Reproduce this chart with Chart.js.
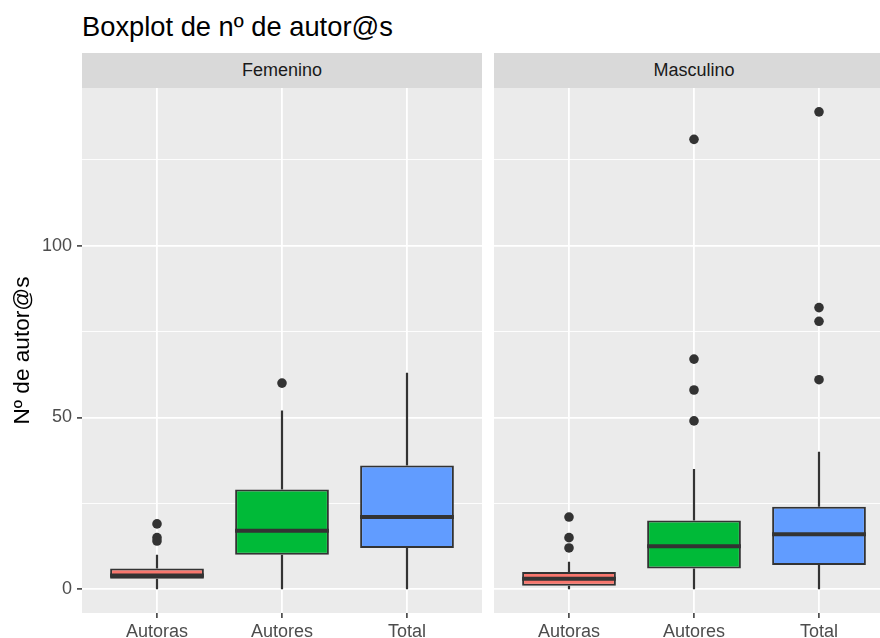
<!DOCTYPE html>
<html>
<head>
<meta charset="utf-8">
<script src="https://cdn.jsdelivr.net/npm/chart.js@4"></script>
<style>
  body { margin: 0; background: #fff; width: 880px; height: 638px; overflow: hidden; position: relative; font-family: "Liberation Sans", Arial, sans-serif; }
  #titulo { position: absolute; left: 82px; top: 13px; font-size: 27.3px; line-height: 27px; color: #000; white-space: nowrap; }
  .strip { position: absolute; top: 53px; width: 400px; height: 35px; line-height: 35px; background: #D9D9D9; color: #1A1A1A; font-size: 18px; text-align: center; }
  canvas { position: absolute; top: 88px; }
</style>
</head>
<body>
<div id="titulo">Boxplot de nº de autor@s</div>
<div class="strip" id="stripFem" style="left:82px"></div>
<div class="strip" id="stripMasc" style="left:494px"></div>
<canvas id="panelFem" width="482" height="550" style="left:0px"></canvas>
<canvas id="panelMasc" width="400" height="550" style="left:494px"></canvas>
<script>
// Datos
const grupos = ['Femenino', 'Masculino'];
const categorias = ['Autoras', 'Autores', 'Total'];

const femMin = [0, 0, 0];
const femQ1 = [3, 10, 12];
const femMediana = [4, 17, 21];
const femQ3 = [6, 29, 36];
const femMax = [10, 52, 63];
const femOutliers = [[19, 15, 14], [60], []];

const mascMin = [0, 0, 0];
const mascQ1 = [1, 6, 7];
const mascMediana = [3, 12.5, 16];
const mascQ3 = [5, 20, 24];
const mascMax = [8, 35, 40];
const mascOutliers = [[21, 15, 12], [131, 67, 58, 49], [139, 82, 78, 61]];

const colores = ['#F8766D', '#00BA38', '#619CFF'];
const yMin = -6.95;
const yMax = 145.95;
const anchoCaja = 0.75;

document.getElementById('stripFem').textContent = grupos[0];
document.getElementById('stripMasc').textContent = grupos[1];

const fuente = "'Liberation Sans', Arial, sans-serif";
const gris = '#333333';

// fondo gris del panel (estilo ggplot)
const fondoPanel = {
    id: 'fondoPanel',
    beforeDraw(chart) {
        const a = chart.chartArea;
        chart.ctx.save();
        chart.ctx.fillStyle = '#EBEBEB';
        chart.ctx.fillRect(a.left, a.top, a.right - a.left, a.bottom - a.top);
        chart.ctx.restore();
    }
};

function sinPadding(s) {
    s.paddingTop = 0;
    s.paddingBottom = 0;
    s.paddingLeft = 0;
    s.paddingRight = 0;
}

function crearPanel(canvasId, q1, med, q3, lo, hi, outl, conEjeY) {
    const cajas = categorias.map((c, i) => ({ x: i + 1, y: [q1[i], q3[i]] }));
    const bigotes = [];
    const medianas = [];
    const puntos = [];
    categorias.forEach((c, i) => {
        const x = i + 1;
        bigotes.push({ x: x, y: lo[i] }, { x: x, y: q1[i] }, { x: x, y: null });
        bigotes.push({ x: x, y: q3[i] }, { x: x, y: hi[i] }, { x: x, y: null });
        medianas.push({ x: x - anchoCaja / 2, y: med[i] }, { x: x + anchoCaja / 2, y: med[i] }, { x: x, y: null });
        outl[i].forEach(v => puntos.push({ x: x, y: v }));
    });

    return new Chart(document.getElementById(canvasId), {
        type: 'bar',
        data: {
            datasets: [
                {
                    type: 'line',
                    data: medianas,
                    borderColor: gris,
                    borderWidth: 4,
                    borderCapStyle: 'butt',
                    pointRadius: 0,
                    fill: false,
                    spanGaps: false,
                    order: 0
                },
                {
                    type: 'scatter',
                    data: puntos,
                    backgroundColor: gris,
                    borderWidth: 0,
                    pointRadius: 4.8,
                    order: 1
                },
                {
                    type: 'bar',
                    data: cajas,
                    backgroundColor: colores,
                    borderColor: gris,
                    borderWidth: 2,
                    borderSkipped: false,
                    barPercentage: anchoCaja,
                    categoryPercentage: 1,
                    order: 2
                },
                {
                    type: 'line',
                    data: bigotes,
                    borderColor: gris,
                    borderWidth: 2.2,
                    pointRadius: 0,
                    fill: false,
                    spanGaps: false,
                    order: 3
                }
            ]
        },
        options: {
            responsive: false,
            animation: false,
            layout: { autoPadding: false, padding: 0 },
            plugins: { legend: { display: false }, tooltip: { enabled: false } },
            scales: {
                x: {
                    type: 'linear',
                    min: 0.4,
                    max: 3.6,
                    offset: false,
                    border: { display: false },
                    grid: { offset: false, color: '#FFFFFF', lineWidth: 1.8, tickColor: gris, tickLength: 5, tickWidth: 1.5 },
                    ticks: {
                        stepSize: 1,
                        includeBounds: false,
                        autoSkip: false,
                        maxRotation: 0,
                        padding: 3,
                        color: '#4D4D4D',
                        font: { family: fuente, size: 18 },
                        callback: v => categorias[v - 1] || ''
                    },
                    afterFit: s => { s.height = 25; sinPadding(s); }
                },
                y: {
                    min: yMin,
                    max: yMax,
                    border: { display: false },
                    grid: {
                        color: '#FFFFFF',
                        lineWidth: ctx => (ctx.tick && ctx.tick.value % 50 === 0) ? 1.8 : 0.9,
                        drawTicks: conEjeY,
                        tickLength: 5,
                        tickWidth: 1.5,
                        tickColor: ctx => (ctx.tick && ctx.tick.value % 50 === 0) ? gris : 'rgba(0,0,0,0)'
                    },
                    ticks: {
                        display: conEjeY,
                        stepSize: 25,
                        includeBounds: false,
                        padding: 5,
                        color: '#4D4D4D',
                        font: { family: fuente, size: 18 },
                        callback: v => (v % 50 === 0 ? v : '')
                    },
                    title: {
                        display: conEjeY,
                        text: 'Nº de autor@s',
                        color: '#000000',
                        font: { family: fuente, size: 22.6 },
                        padding: { top: 9, bottom: 0 }
                    },
                    afterFit: s => { s.width = conEjeY ? 82 : 0; sinPadding(s); }
                }
            }
        },
        plugins: [fondoPanel]
    });
}

crearPanel('panelFem', femQ1, femMediana, femQ3, femMin, femMax, femOutliers, true);
crearPanel('panelMasc', mascQ1, mascMediana, mascQ3, mascMin, mascMax, mascOutliers, false);
</script>
</body>
</html>
